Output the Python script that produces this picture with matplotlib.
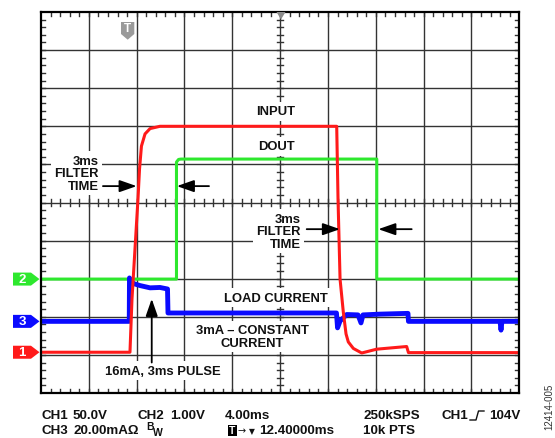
import matplotlib.pyplot as plt
from matplotlib.patches import Polygon, Rectangle
from matplotlib.transforms import IdentityTransform

plt.rcParams['font.family'] = ['Liberation Sans', 'DejaVu Sans']

# screen time in ms (10 div x 4ms), level in divisions from the bottom
input_t = [0, 7.44, 7.61, 7.86, 8.11, 8.24, 8.40, 8.70, 9.12, 9.95, 24.73, 24.84,
           25.01, 25.28, 25.51, 25.70, 26.12, 26.82, 28.07, 30.58, 30.73, 40]
input_v = [1.07, 1.07, 2.47, 3.78, 5.09, 5.88, 6.48, 6.80, 6.94, 7.0, 7.0, 5.09,
           2.99, 2.13, 1.55, 1.34, 1.17, 1.05, 1.15, 1.22, 1.06, 1.06]

dout_t = [0, 11.33, 11.33, 11.50, 11.71, 28.08, 28.08, 40]
dout_v = [2.99, 2.99, 6.06, 6.13, 6.14, 6.14, 2.99, 2.99]

load_t = [0, 7.38, 7.40, 7.53, 7.86, 8.28, 9.12, 9.95, 10.58, 10.62, 24.71, 24.80,
          25.01, 25.57, 26.51, 26.76, 26.93, 28.35, 30.69, 30.73, 38.39, 38.47, 38.55, 40]
load_v = [1.88, 1.88, 3.02, 2.91, 2.86, 2.82, 2.76, 2.77, 2.73, 2.10, 2.10, 1.71,
          1.89, 2.06, 2.05, 1.84, 2.05, 2.07, 2.09, 1.88, 1.88, 1.65, 1.88, 1.88]

red = '#ff1a1a'
green = '#2ee82e'
blue = '#0a0aff'

W, H = 555, 439
fig = plt.figure(figsize=(W / 100, H / 100), dpi=100)
ax = fig.add_axes([41 / W, 45 / H, 478.3 / W, 381 / H])
ax.set_xlim(0, 40)
ax.set_ylim(0, 10)
ax.set_xticks([])
ax.set_yticks([])
for s in ax.spines.values():
    s.set_linewidth(1.6)
    s.set_color('black')
    s.set_zorder(6)

# graticule
for i in range(1, 10):
    ax.axvline(i * 4, color='#333333', lw=1.0, zorder=1)
    ax.axhline(i, color='#333333', lw=1.0, zorder=1)

dx = 0.33   # ~4px in ms
dy = 0.105  # ~4px in div
for k in range(1, 50):
    x = k * 0.8
    ax.plot([x, x], [10, 10 - dy], color='#333333', lw=1.0, zorder=1.5)
    ax.plot([x, x], [0, dy], color='#333333', lw=1.0, zorder=1.5)
    ax.plot([x, x], [5 - dy * 0.8, 5 + dy * 0.8], color='#333333', lw=1.0, zorder=1.5)
for k in range(1, 50):
    y = k * 0.2
    ax.plot([0, dx], [y, y], color='#333333', lw=1.0, zorder=1.5)
    ax.plot([40, 40 - dx], [y, y], color='#333333', lw=1.0, zorder=1.5)
    ax.plot([20 - dx * 0.8, 20 + dx * 0.8], [y, y], color='#333333', lw=1.0, zorder=1.5)

# traces
ax.plot(dout_t, dout_v, color=green, lw=2.2, zorder=3, solid_joinstyle='round')
ax.plot(load_t, load_v, color=blue, lw=3.5, zorder=3.2)
ax.plot(input_t, input_v, color=red, lw=2.2, zorder=3.4, solid_joinstyle='round')

box = dict(fc='white', ec='none', pad=2.5)
tk = dict(fontsize=9.4, fontweight='bold', color='#111111', zorder=2, bbox=box)

ax.text(19.64, 7.40, 'INPUT', ha='center', va='center', **tk)
ax.text(19.65, 6.48, 'DOUT', ha='center', va='center', **tk)
ax.text(4.82, 5.77, '3ms\nFILTER\nTIME', ha='right', va='center', multialignment='right',
        linespacing=1.05, **tk)
ax.text(21.74, 4.25, '3ms\nFILTER\nTIME', ha='right', va='center', multialignment='right',
        linespacing=1.05, **tk)
ax.text(19.63, 2.50, 'LOAD CURRENT', ha='center', va='center', **tk)
ax.text(17.69, 1.48, '3mA \u2013 CONSTANT\nCURRENT', ha='center', va='center',
        multialignment='center', linespacing=1.05, **tk)
ax.text(10.16, 0.585, '16mA, 3ms PULSE', ha='center', va='center', **tk)

arr = dict(arrowstyle='-|>,head_length=0.8,head_width=0.28', color='black', lw=1.3,
           mutation_scale=13, shrinkA=0, shrinkB=0)
ax.annotate('', xy=(8.0, 5.43), xytext=(5.18, 5.43), arrowprops=arr, zorder=4)
ax.annotate('', xy=(11.36, 5.43), xytext=(14.05, 5.43), arrowprops=arr, zorder=4)
ax.annotate('', xy=(25.0, 4.30), xytext=(22.22, 4.30), arrowprops=arr, zorder=4)
ax.annotate('', xy=(28.21, 4.30), xytext=(31.0, 4.30), arrowprops=arr, zorder=4)
ax.annotate('', xy=(9.26, 2.47), xytext=(9.26, 0.80), arrowprops=arr, zorder=4)

# channel markers on the left edge
ident = IdentityTransform()
for num, lvl, col in [('1', input_v[0], red), ('3', load_v[0], blue), ('2', dout_v[0], green)]:
    yd = ax.transData.transform((0, lvl))[1]
    pts = [(13, yd - 6.5), (31, yd - 6.5), (39.5, yd), (31, yd + 6.5), (13, yd + 6.5)]
    fig.add_artist(Polygon(pts, closed=True, fc=col, ec='none', transform=ident))
    fig.text(22 / W, yd / H, num, color='white', fontsize=9.5, fontweight='bold',
             ha='center', va='center')

# trigger position marker and centre marker at the top
pts = [(121, H - 23), (134.3, H - 23), (134.3, H - 35), (127.7, H - 40.7), (121, H - 35)]
fig.add_artist(Polygon(pts, closed=True, fc='#9a9a9a', ec='none', transform=ident))
fig.text(127.7 / W, 1 - 29.5 / H, 'T', color='white', fontsize=8.5, fontweight='bold',
         ha='center', va='center')
pts = [(276.5, H - 13), (285.5, H - 13), (281, H - 20.5)]
fig.add_artist(Polygon(pts, closed=True, fc='#8a8a8a', ec='none', transform=ident, zorder=7))

# readout below the screen
bt = dict(fontsize=9.6, fontweight='bold', color='#111111', va='center', ha='left')
r1 = 1 - 416.5 / H
r2 = 1 - 431.5 / H
fig.text(41 / W, r1, 'CH1', **bt)
fig.text(73 / W, r1, '50.0V', **bt)
fig.text(137 / W, r1, 'CH2', **bt)
fig.text(170 / W, r1, '1.00V', **bt)
fig.text(225 / W, r1, '4.00ms', **bt)
fig.text(363 / W, r1, '250kSPS', **bt)
fig.text(441 / W, r1, 'CH1', **bt)
fig.text(489 / W, r1, '104V', **bt)
fig.lines.append(plt.Line2D([470, 476, 478.5, 484], [H - 421, H - 421, H - 412, H - 412],
                            color='#111111', lw=1.0, transform=ident, figure=fig))

fig.text(41 / W, r2, 'CH3', **bt)
fig.text(73 / W, r2, '20.00mA\u03a9', **bt)
fig.text(146.5 / W, 1 - 427 / H, 'B', fontsize=7.5, fontweight='bold', color='#111111',
         ha='left', va='center')
fig.text(152.5 / W, 1 - 433.5 / H, 'W', fontsize=7.5, fontweight='bold', color='#111111',
         ha='left', va='center')
fig.add_artist(Rectangle((227.5, H - 437), 9.5, 11, fc='black', ec='none', transform=ident))
fig.text(232.2 / W, 1 - 431.5 / H, 'T', color='white', fontsize=7.5, fontweight='bold',
         ha='center', va='center')
fig.text(237.5 / W, r2, '\u2192', fontsize=7, color='#111111', va='center', ha='left',
         family=['DejaVu Sans'])
fig.text(248.5 / W, r2, '\u25bc', fontsize=5.5, color='#111111', va='center', ha='left',
         family=['DejaVu Sans'])
fig.text(259 / W, r2, '12.40000ms', **bt)
fig.text(363 / W, r2, '10k PTS', **bt)

fig.text(549 / W, 1 - 384 / H, '12414-005', rotation=90, fontsize=7, color='#333333',
         ha='center', va='top')

fig.savefig('out.png', dpi=100)
